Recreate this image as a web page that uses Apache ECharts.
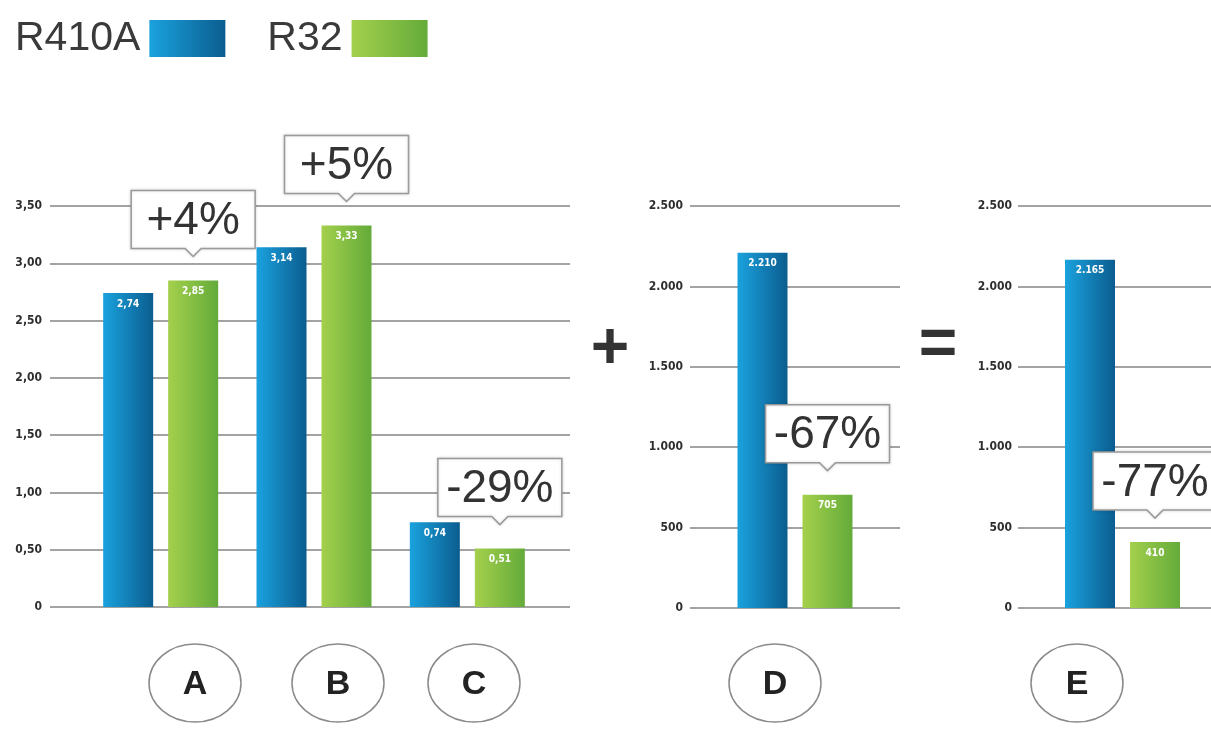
<!DOCTYPE html>
<html>
<head>
<meta charset="utf-8">
<script src="https://cdn.jsdelivr.net/npm/echarts@6/dist/echarts.min.js"></script>
<style>
  html, body { margin: 0; padding: 0; background: #fff; }
  #main { width: 1211px; height: 741px; }
</style>
</head>
<body>
<div id="main"></div>
<script>
// panel 1: A, B, C
var categories1 = ['A', 'B', 'C'];
var r410a1 = [2.74, 3.14, 0.74];
var r32_1 = [2.85, 3.33, 0.51];
var changes1 = ['+4%', '+5%', '-29%'];

// panel 2: D
var categoriesD = ['D'];
var r410aD = [2210];
var r32D = [705];
var changesD = ['-67%'];

// panel 3: E
var categoriesE = ['E'];
var r410aE = [2165];
var r32E = [410];
var changesE = ['-77%'];

// axis ranges
var max1 = 3.5, step1 = 0.5;
var max2 = 2500, step2 = 500;

var chart = echarts.init(document.getElementById('main'));

var blue = new echarts.graphic.LinearGradient(0, 0, 1, 0, [
  { offset: 0, color: '#1aa2de' },
  { offset: 1, color: '#0b5d8f' }
]);
var green = new echarts.graphic.LinearGradient(0, 0, 1, 0, [
  { offset: 0, color: '#a4d04c' },
  { offset: 1, color: '#64ab3a' }
]);

function fmtDec(v) {
  return v === 0 ? '0' : v.toFixed(2).replace('.', ',');
}
function fmtThousand(v) {
  return String(Math.round(v)).replace(/\B(?=(\d{3})+(?!\d))/g, '.');
}

var panels = [
  { cats: categories1, a: r410a1, b: r32_1, changes: changes1, max: max1, step: step1, fmt: fmtDec,
    axisGrid: { left: 50, width: 520, top: 206, height: 401 },
    barGrid: { left: 84, width: 460, top: 206, height: 401 }, margin: 8 },
  { cats: categoriesD, a: r410aD, b: r32D, changes: changesD, max: max2, step: step2, fmt: fmtThousand,
    axisGrid: { left: 690, width: 210, top: 206, height: 402 },
    barGrid: { left: 720, width: 150, top: 206, height: 402 }, margin: 7 },
  { cats: categoriesE, a: r410aE, b: r32E, changes: changesE, max: max2, step: step2, fmt: fmtThousand,
    axisGrid: { left: 1018, width: 193, top: 206, height: 402 },
    barGrid: { left: 1050, width: 145, top: 206, height: 402 }, margin: 6 }
];

var grids = [], xAxes = [], yAxes = [], series = [];
var barLabel = {
  show: true,
  position: 'insideTop',
  distance: 6,
  color: '#fff',
  fontSize: 10,
  fontWeight: 'bold',
  fontFamily: 'DejaVu Sans Condensed'
};

panels.forEach(function (p, i) {
  var gA = 2 * i, gB = 2 * i + 1;
  grids.push(p.axisGrid, p.barGrid);
  // axis grid: labels + long gridlines
  xAxes.push({ gridIndex: gA, type: 'category', data: [''], show: false });
  yAxes.push({
    gridIndex: gA, type: 'value', min: 0, max: p.max, interval: p.step,
    axisLine: { show: false }, axisTick: { show: false },
    axisLabel: {
      margin: p.margin, color: '#2e2e2e', fontSize: 12, fontWeight: 'bold',
      fontFamily: 'DejaVu Sans Condensed', formatter: p.fmt
    },
    splitLine: { show: true, lineStyle: { color: '#a3a3a3', width: 2 } }
  });
  // bar grid
  xAxes.push({ gridIndex: gB, type: 'category', data: p.cats, show: false });
  yAxes.push({ gridIndex: gB, type: 'value', min: 0, max: p.max, show: false, splitLine: { show: false } });
  series.push({
    name: 'R410A', type: 'bar', xAxisIndex: gB, yAxisIndex: gB,
    data: p.a, barWidth: 50, barGap: '30%',
    itemStyle: { color: blue },
    label: Object.assign({}, barLabel, { formatter: function (d) { return p.fmt(d.value); } })
  });
  series.push({
    name: 'R32', type: 'bar', xAxisIndex: gB, yAxisIndex: gB,
    data: p.b, barWidth: 50, barGap: '30%',
    itemStyle: { color: green },
    label: Object.assign({}, barLabel, { formatter: function (d) { return p.fmt(d.value); } })
  });
});

chart.setOption({
  backgroundColor: '#fff',
  animation: false,
  legend: {
    data: ['R410A', 'R32'],
    left: 10, top: 13,
    align: 'right',
    itemWidth: 76, itemHeight: 37, itemGap: 42,
    icon: 'rect',
    textStyle: { fontSize: 41, color: '#3a3a3a', fontFamily: 'Liberation Sans', padding: [0, 4, 0, 0] }
  },
  grid: grids,
  xAxis: xAxes,
  yAxis: yAxes,
  series: series
});

// annotations: callout boxes over the R32 bars, letter circles, + and =
var graphics = [];
var barOffset = 32.5; // half of bar width + gap

panels.forEach(function (p, i) {
  p.cats.forEach(function (c, j) {
    var pt = chart.convertToPixel({ gridIndex: 2 * i + 1 }, [j, p.b[j]]);
    var tipX = pt[0] + barOffset;
    var tipY = pt[1] - 24;
    var w = 124, h = 58, n = 8;
    var b = tipY - n, t = b - h, l = tipX - w / 2, r = tipX + w / 2;
    graphics.push({
      type: 'polygon', z: 10,
      shape: { points: [[l, t], [r, t], [r, b], [tipX + 8, b], [tipX, tipY], [tipX - 8, b], [l, b]] },
      style: { fill: '#fff', stroke: '#9a9a9a', lineWidth: 1.5, shadowBlur: 3, shadowColor: 'rgba(0,0,0,0.15)' }
    });
    graphics.push({
      type: 'text', z: 11, x: tipX, y: t + h / 2 + 2,
      style: {
        text: p.changes[j], fill: '#333', fontSize: 46, fontFamily: 'Liberation Sans',
        align: 'center', verticalAlign: 'middle'
      }
    });
  });
});

var letters = categories1.concat(categoriesD, categoriesE);
var letterX = [195, 338, 474, 775, 1077];
letters.forEach(function (l, k) {
  graphics.push({
    type: 'ellipse', shape: { cx: letterX[k], cy: 683, rx: 46, ry: 39 },
    style: { fill: 'none', stroke: '#8a8a8a', lineWidth: 1.5 }
  });
  graphics.push({
    type: 'text', x: letterX[k], y: 685,
    style: {
      text: l, fill: '#222', fontSize: 34, fontWeight: 'bold', fontFamily: 'Liberation Sans',
      align: 'center', verticalAlign: 'middle'
    }
  });
});

graphics.push({
  type: 'text', x: 610, y: 350,
  style: { text: '+', fill: '#333', fontSize: 66, fontWeight: 'bold', fontFamily: 'Liberation Sans', align: 'center', verticalAlign: 'middle' }
});
graphics.push({
  type: 'text', x: 938, y: 347,
  style: { text: '=', fill: '#333', fontSize: 66, fontWeight: 'bold', fontFamily: 'Liberation Sans', align: 'center', verticalAlign: 'middle' }
});

chart.setOption({ graphic: graphics });
</script>
</body>
</html>
